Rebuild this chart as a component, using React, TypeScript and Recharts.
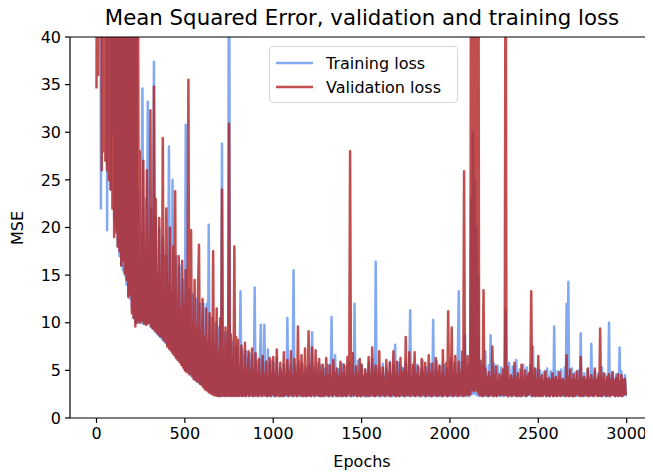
import React from 'react';
import { LineChart, Line, XAxis, YAxis, ReferenceLine } from 'recharts';

const trainingLoss = [
  60, 85, 90, 80, 95, 22, 90, 85, 70, 95, 80, 90, 19.7, 85, 40, 95, 24, 80, 30, 90,
  21, 85, 20, 90, 18, 80, 17, 95, 16, 85, 15.5, 90, 15, 80, 14, 95, 13, 85, 12.5, 90,
  11.5, 80, 10.5, 70, 10, 55, 10.2, 24, 10, 16, 10.2, 22, 34.6, 9.9, 15, 10, 23, 9.8, 33.2, 9.9,
  15, 9.6, 22, 9.4, 14, 37.4, 9.1, 21, 8.9, 13, 8.7, 20, 8.5, 12.5, 8.3, 19, 8.1, 12, 7.9, 17,
  7.7, 12, 28.5, 7.3, 17, 7.1, 25, 6.9, 11, 6.6, 17, 6.3, 10.5, 6.1, 16, 5.8, 10, 5.6, 14.5, 5.3,
  5.1, 30.8, 5, 9.5, 4.8, 13.5, 4.6, 9, 4.4, 13, 4.2, 8.5, 4, 12.5, 3.9, 8.5, 3.7, 12, 3.6, 8,
  3.4, 12, 3.3, 8, 3.1, 12, 3, 20.3, 2.8, 7.5, 2.7, 10.5, 2.6, 7, 2.5, 10, 2.4, 6.5, 2.4, 9.5,
  2.4, 6.5, 28.8, 2.3, 9, 2.4, 6, 2.3, 9, 2.4, 70, 2.3, 6, 2.4, 8, 2.3, 5.5, 2.4, 7.5, 2.3,
  7.5, 2.4, 7, 13.3, 2.3, 7.2, 2.4, 6.5, 2.3, 7, 2.4, 6.2, 2.3, 6.8, 2.4, 6, 2.3, 6.5, 2.4, 13.7,
  2.3, 6, 2.4, 5.8, 2.3, 6.2, 9.8, 2.4, 5.5, 2.3, 9.8, 2.4, 5.9, 2.3, 7.2, 2.4, 5.6, 2.3, 6, 2.4,
  5.8, 2.3, 4.2, 2.4, 6.3, 2.3, 4.5, 2.4, 5.2, 2.3, 4.1, 2.4, 5.6, 2.3, 4.4, 2.4, 10.5, 2.3, 4.6, 2.4,
  5.5, 2.3, 4.3, 15.5, 2.4, 5.4, 2.3, 4.6, 2.4, 5.9, 2.3, 4.2, 2.4, 5.7, 2.3, 4.5, 2.4, 5.3, 2.3, 4.4,
  2.4, 5.6, 2.3, 4.3, 9, 2.4, 5.4, 2.3, 4.6, 2.4, 5.8, 2.3, 4.1, 2.4, 5.5, 2.3, 4.7, 2.4, 5.2, 2.3,
  4.4, 2.4, 5.6, 2.3, 4.2, 2.4, 10.6, 2.3, 5.3, 2.4, 6.6, 2.3, 4.5, 2.4, 5.1, 2.3, 4.3, 2.4, 5.7, 2.3,
  4.6, 2.4, 5.4, 2.3, 4.2, 2.4, 5.9, 2.3, 4.5, 2.4, 5.5, 2.3, 12, 2.4, 4.7, 2.3, 6, 2.4, 4.3, 2.3,
  5.6, 2.4, 4.4, 2.3, 5.1, 2.4, 4.2, 2.3, 5.8, 2.4, 4.6, 2.3, 6.2, 2.4, 4.3, 2.3, 16.4, 2.4, 5.2, 2.3,
  5.4, 2.4, 4.1, 2.3, 5.7, 2.4, 4.5, 2.3, 5.2, 2.4, 4.3, 2.3, 5.9, 2.4, 4.6, 2.3, 5.5, 2.4, 7.7, 2.3,
  4.4, 2.4, 5.8, 2.3, 4.2, 2.4, 5.3, 2.3, 4.7, 2.4, 5.9, 2.3, 4.3, 2.4, 5.5, 11.3, 2.3, 4.6, 2.4, 5.4,
  2.3, 4.5, 2.4, 5.6, 2.3, 4.2, 2.4, 5.1, 2.3, 6, 2.4, 4.4, 2.3, 5.3, 2.4, 4.7, 2.3, 5.7, 2.4, 4.3,
  2.3, 10.3, 2.4, 4.6, 2.3, 6, 2.4, 4.3, 2.3, 5.4, 2.4, 4.5, 2.3, 5.6, 2.4, 4.2, 2.3, 5.2, 2.4, 4.7,
  2.3, 6.3, 2.4, 4.4, 2.3, 5.8, 2.4, 4.6, 2.3, 7, 13.3, 2.4, 4.5, 2.3, 5.9, 2.4, 4.3, 8.7, 2.3, 4.8,
  2.4, 5.6, 2.3, 4.5, 23, 2.5, 30, 2.6, 25, 2.5, 20, 2.4, 15, 2.3, 6, 2.4, 4.4, 2.3, 5.5, 2.4,
  7, 2.3, 4.3, 2.4, 5.5, 2.3, 8.7, 2.4, 4.2, 2.3, 5.7, 2.4, 4.5, 2.3, 5.5, 2.4, 4.1, 2.3, 5.3, 2.4,
  4.4, 2.3, 5.2, 11.3, 2.4, 4.6, 2.3, 5.8, 2.4, 4.2, 2.3, 5.4, 2.4, 4.3, 2.3, 6.1, 2.4, 4.5, 2.3, 5.1,
  2.5, 4.2, 2.3, 5.6, 2.4, 4.4, 2.3, 5.3, 2.4, 4.1, 2.5, 5.5, 2.3, 4.6, 7.5, 2.4, 4.3, 2.3, 5.1, 2.4,
  4, 2.4, 5, 2.3, 3.9, 2.4, 4.8, 2.5, 4.1, 2.3, 5.2, 2.4, 3.8, 2.3, 4.9, 2.4, 4.2, 2.3, 9.6, 2.4,
  4.1, 2.3, 4.9, 2.5, 3.9, 2.4, 5.1, 2.3, 4, 2.4, 5.3, 2.3, 12, 2.4, 14.3, 2.3, 4.2, 2.4, 5.2, 2.3,
  4.1, 2.4, 4.8, 2.3, 3.9, 2.5, 5, 2.4, 8.9, 2.3, 4.2, 2.4, 4.7, 2.3, 4, 2.4, 5.1, 2.3, 3.8, 2.4,
  7.8, 2.3, 4.1, 2.4, 4.9, 2.5, 3.9, 2.4, 4.7, 2.3, 4.2, 2.4, 5.3, 2.3, 4, 2.4, 4.6, 2.3, 3.9, 2.4,
  10, 2.3, 4.2, 2.5, 4.8, 2.4, 4, 2.3, 4.6, 2.4, 4.1, 2.3, 7.4, 2.4, 4.9, 2.3, 4, 2.4, 4.5, 2.3,
];

const validationLoss = [
  34.6, 90, 36, 80, 40, 95, 26, 85, 28, 90, 27, 80, 26, 95, 25, 85, 24, 90, 22, 80,
  19, 85, 19.5, 90, 18, 80, 17.5, 95, 16, 85, 16.5, 90, 15.2, 80, 14.5, 95, 12.7, 85, 13, 90,
  11, 80, 10.5, 60, 9.6, 70, 10, 45, 10.2, 28, 10, 19, 10.2, 27, 9.9, 17, 9.8, 26, 10, 18,
  10, 32.3, 9.6, 16, 9.4, 34.8, 9.2, 23, 9, 15, 8.8, 21, 8.6, 14, 8.5, 29.4, 8.2, 17, 8, 22,
  7.5, 14, 7.3, 20, 7.1, 13, 6.8, 18, 6.6, 23.8, 6.3, 12, 6.1, 17, 5.9, 11.5, 5.6, 16.5, 5.3, 12,
  5, 15.5, 4.8, 10.5, 35.5, 4.6, 14.5, 19.7, 4.4, 10, 4.1, 14.5, 4, 9.5, 3.8, 14, 18.2, 3.6, 9, 3.5,
  12.5, 3.2, 8.5, 3, 11.5, 2.9, 8, 2.7, 11, 2.6, 7.5, 2.5, 17.5, 2.4, 7.5, 2.4, 11.5, 2.3, 7, 2.3,
  10.5, 2.3, 24, 2.4, 6.5, 2.3, 9.5, 2.4, 6, 2.3, 30.9, 2.4, 8.8, 2.3, 6, 2.4, 18, 2.3, 8.5, 2.4,
  8.2, 2.3, 5.4, 2.4, 7.6, 2.3, 5, 2.4, 7.9, 2.3, 5.2, 2.5, 7, 2.3, 4.8, 2.5, 7.3, 2.3, 5, 2.4,
  6.8, 2.4, 4.6, 2.3, 6.2, 2.5, 4.4, 2.3, 6.5, 2.5, 4.5, 2.4, 5.9, 2.3, 4.3, 2.4, 6.3, 2.3, 4.6, 2.5,
  6.4, 2.4, 4.6, 2.3, 7.2, 2.5, 4.2, 2.3, 5.8, 2.4, 4.8, 2.3, 6.9, 2.4, 4.4, 2.5, 6.1, 2.3, 4.9, 2.5,
  7, 2.4, 4.5, 2.3, 6.2, 2.5, 4.8, 2.3, 9.6, 2.5, 5.1, 2.4, 6.6, 2.3, 4.3, 2.4, 7.3, 2.3, 4.7, 2.4,
  9.1, 2.4, 5.2, 2.3, 7.4, 2.5, 4.6, 2.3, 7.1, 2.5, 4.4, 2.4, 6.2, 2.3, 4.9, 2.4, 5.6, 2.3, 4.2, 2.5,
  6.3, 2.4, 4.5, 2.3, 5.5, 2.5, 4.1, 2.3, 6.1, 2.5, 4.7, 2.4, 5.2, 2.3, 4.3, 2.5, 5.9, 2.3, 4.6, 2.4,
  5.6, 2.4, 4.2, 2.3, 6.4, 2.5, 4.8, 28, 2.3, 5.1, 6.8, 2.4, 4.4, 2.5, 5.4, 2.3, 4.6, 2.4, 6.2, 2.3,
  5.6, 2.4, 4.3, 2.5, 5.1, 2.3, 4.6, 2.4, 6.4, 2.3, 4.2, 2.5, 7.4, 2.4, 4.8, 2.3, 5.5, 2.4, 4.4, 2.5,
  7, 2.3, 4.5, 2.5, 5.3, 2.4, 4.1, 2.3, 6.1, 2.5, 4.7, 2.4, 5.8, 2.3, 4.3, 2.5, 7, 2.4, 4.6, 2.3,
  5.9, 2.4, 4.4, 2.3, 6.3, 2.5, 4.8, 2.4, 5.2, 2.3, 8.5, 2.5, 4.5, 2.4, 6.9, 2.3, 4.2, 2.5, 5.6, 2.4,
  6.9, 2.3, 4.6, 2.5, 5.4, 2.4, 4.3, 2.3, 6.2, 2.5, 4.8, 2.4, 5.8, 2.3, 4.4, 2.5, 6.6, 2.4, 4.7, 2.3,
  5.7, 2.4, 4.2, 2.5, 6.3, 2.3, 4.9, 2.4, 5.5, 2.5, 4.5, 2.3, 7.1, 2.4, 4.3, 2.5, 5.8, 2.3, 11.2, 2.4,
  4.6, 2.5, 9.5, 2.3, 4.8, 2.4, 6.5, 2.5, 4.4, 2.3, 5.9, 2.4, 4.7, 2.5, 7, 2.3, 25.9, 2.4, 5.2, 2.5,
  6.5, 2.4, 4.8, 2.5, 60, 3, 90, 2.8, 70, 3, 85, 2.8, 75, 2.5, 5.5, 2.4, 6, 2.3, 13.4, 2.4,
  5.2, 2.5, 4.2, 2.3, 4.8, 2.4, 4.1, 2.5, 7.5, 2.3, 4.4, 2.4, 5.4, 2.3, 3.9, 2.5, 4.6, 2.4, 4.3, 2.5,
  5.1, 2.4, 4.3, 60, 2.4, 5.4, 2.3, 4, 2.5, 4.5, 2.3, 4.1, 2.5, 5.8, 2.4, 4.2, 2.3, 4.7, 2.4, 3.9,
  2.3, 5.6, 2.4, 4.1, 2.5, 5, 2.3, 4.3, 2.4, 4.7, 2.5, 4, 13.3, 2.3, 4.4, 2.4, 5.2, 2.3, 3.9, 2.4,
  6.5, 2.3, 4.1, 2.4, 4.5, 2.3, 3.8, 2.5, 4.9, 2.3, 4, 2.4, 4.2, 2.3, 3.9, 2.5, 4.7, 2.3, 4.1, 2.4,
  4.3, 2.3, 3.9, 2.4, 4.8, 2.3, 4, 2.5, 4.1, 2.4, 3.8, 2.3, 6.6, 2.4, 4.2, 2.3, 5.1, 2.4, 3.9, 2.3,
  4.6, 2.3, 4, 2.5, 4.9, 2.4, 3.8, 2.3, 6.4, 2.4, 4.1, 2.3, 4.3, 2.5, 3.9, 2.4, 5.2, 2.3, 4, 2.4,
  4.5, 2.4, 3.9, 2.3, 5.2, 2.5, 4, 2.3, 4.4, 2.4, 9.4, 2.3, 4.1, 2.4, 4.7, 2.5, 3.8, 2.3, 4.3, 2.4,
  4.6, 2.3, 4, 2.4, 4.8, 2.5, 3.9, 2.3, 4.2, 2.4, 4.6, 2.3, 3.8, 2.4, 4.5, 2.3, 4, 2.5, 4.1, 2.4,
];

const epochStep = 5;
const epochTicks = [0, 500, 1000, 1500, 2000, 2500, 3000];
const mseTicks = [0, 5, 10, 15, 20, 25, 30, 35, 40];
const seriesNames = ['Training loss', 'Validation loss'];
const seriesColors = ['#6495ED', '#B22222'];
const chartTitle = 'Mean Squared Error, validation and training loss';
const xLabel = 'Epochs';
const yLabel = 'MSE';

const data = trainingLoss.map((t, i) => ({
  epoch: i * epochStep,
  train: t,
  val: validationLoss[i],
}));

const FONT = '"DejaVu Sans", sans-serif';

const LegendBox = () => (
  <div
    style={{
      position: 'absolute',
      left: 269,
      top: 46,
      width: 187,
      height: 55,
      border: '1px solid #d6d6d6',
      borderRadius: 4,
      background: 'rgba(255,255,255,0.8)',
      fontFamily: FONT,
      fontSize: 16,
      color: '#000',
    }}
  >
    {seriesNames.map((name, i) => (
      <div
        key={name}
        style={{ position: 'absolute', left: 0, top: 4 + i * 24, height: 24, display: 'flex', alignItems: 'center' }}
      >
        <svg width={56} height={24} style={{ display: 'block' }}>
          <line x1={6} x2={43} y1={12} y2={12} stroke={seriesColors[i]} strokeOpacity={0.8} strokeWidth={2.5} />
        </svg>
        <span style={{ whiteSpace: 'nowrap' }}>{name}</span>
      </div>
    ))}
  </div>
);

export default function App() {
  return (
    <div style={{ position: 'relative', width: 653, height: 474, margin: '-8px 0 0 -8px', fontFamily: FONT, background: '#fff', overflow: 'hidden' }}>
      <div
        style={{
          position: 'absolute',
          left: 70,
          width: 584,
          top: 6,
          textAlign: 'center',
          fontSize: 21.3,
          lineHeight: '24px',
          color: '#000',
          whiteSpace: 'nowrap',
        }}
      >
        {chartTitle}
      </div>
      <div
        style={{
          position: 'absolute',
          left: 70,
          width: 584,
          top: 452,
          textAlign: 'center',
          fontSize: 16,
          lineHeight: '20px',
          color: '#000',
        }}
      >
        {xLabel}
      </div>
      <div
        style={{
          position: 'absolute',
          left: 18,
          top: 228,
          transform: 'translate(-50%, -50%) rotate(-90deg)',
          fontSize: 16,
          lineHeight: '20px',
          color: '#000',
        }}
      >
        {yLabel}
      </div>
      <div style={{ position: 'absolute', left: 0, top: 0 }}>
        <LineChart width={653} height={474} data={data} margin={{ top: 37, right: 0, bottom: 0, left: 0 }}>
          <XAxis
            dataKey="epoch"
            type="number"
            domain={[-150, 3149]}
            ticks={epochTicks}
            allowDataOverflow
            height={56}
            tickSize={5}
            tickMargin={5}
            axisLine={{ stroke: '#000', strokeWidth: 1.2 }}
            tickLine={{ stroke: '#000', strokeWidth: 1.2 }}
            tick={{ fill: '#000', fontSize: 16, fontFamily: FONT }}
          />
          <YAxis
            type="number"
            domain={[0, 40]}
            ticks={mseTicks}
            allowDataOverflow
            width={70}
            tickSize={5}
            tickMargin={4}
            axisLine={{ stroke: '#000', strokeWidth: 1.2 }}
            tickLine={{ stroke: '#000', strokeWidth: 1.2 }}
            tick={{ fill: '#000', fontSize: 16, fontFamily: FONT }}
          />
          <Line
            dataKey="train"
            name={seriesNames[0]}
            type="linear"
            stroke={seriesColors[0]}
            strokeOpacity={0.8}
            strokeWidth={2.5}
            strokeLinejoin="round"
            dot={false}
            activeDot={false}
            isAnimationActive={false}
          />
          <Line
            dataKey="val"
            name={seriesNames[1]}
            type="linear"
            stroke={seriesColors[1]}
            strokeOpacity={0.8}
            strokeWidth={2.5}
            strokeLinejoin="round"
            dot={false}
            activeDot={false}
            isAnimationActive={false}
          />
          <ReferenceLine y={40} stroke="#000" strokeWidth={1.2} />
        </LineChart>
      </div>
      <LegendBox />
    </div>
  );
}
